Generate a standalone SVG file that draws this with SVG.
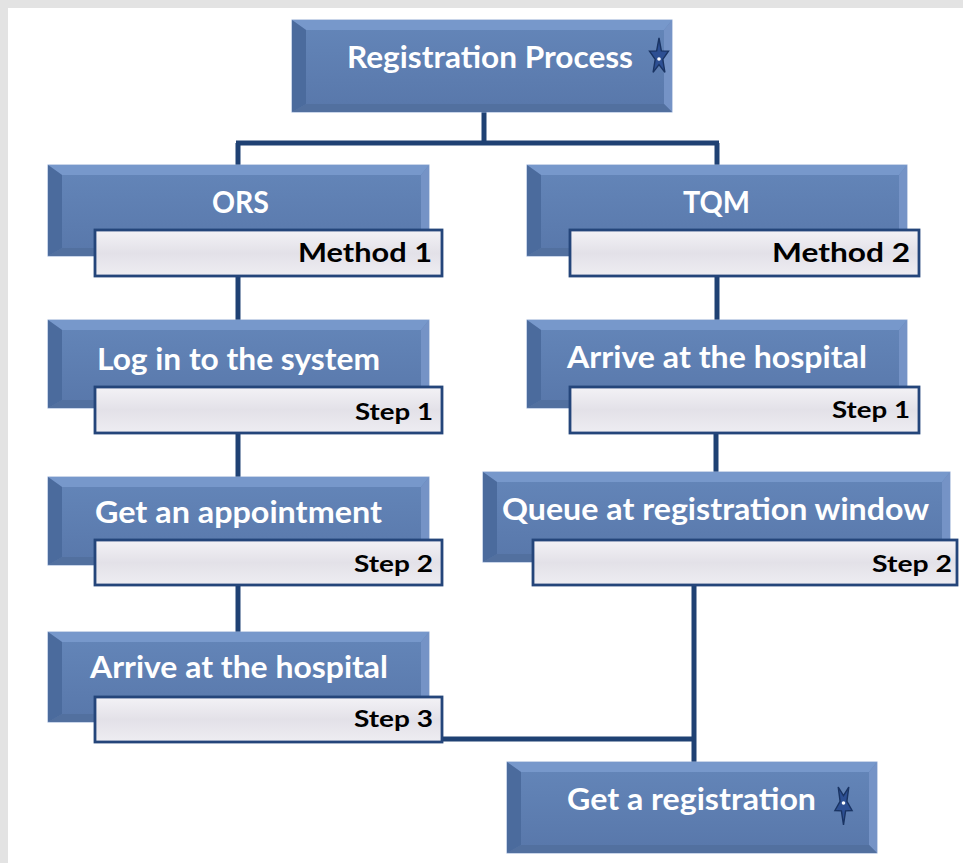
<svg xmlns="http://www.w3.org/2000/svg" width="963" height="863" viewBox="0 0 963 863">
<defs>
<linearGradient id="gBody" x1="0" y1="0" x2="0" y2="1">
<stop offset="0" stop-color="#6486b9"/>
<stop offset="1" stop-color="#5877aa"/>
</linearGradient>
<linearGradient id="gSub" x1="0" y1="0" x2="0" y2="1">
<stop offset="0" stop-color="#f3f2f6"/>
<stop offset="0.5" stop-color="#e3e1e8"/>
<stop offset="1" stop-color="#eeedf2"/>
</linearGradient>
<style>
.body{fill:url(#gBody);stroke:#93acd4;stroke-width:1}
.bt{fill:#7798cb}
.bl{fill:#4b6b9d}
.br{fill:#7593c6}
.bb{fill:#52709f}
.sub{fill:url(#gSub);stroke:#24457a;stroke-width:2.8}
.con{fill:none;stroke:#1f4173;stroke-width:5}
.mt{font-family:Lato,"Open Sans","Liberation Sans",sans-serif;font-weight:bold;font-size:30px;fill:#ffffff}
.st{font-family:Lato,"Open Sans","Liberation Sans",sans-serif;font-weight:bold;fill:#000000}
.star{fill:#2d4f93;stroke:#1a3463;stroke-width:1.4}
</style>
</defs>
<rect x="0" y="0" width="963" height="863" fill="#ffffff"/>
<rect x="0" y="0" width="963" height="8" fill="#e3e3e3"/>
<rect x="0" y="0" width="8" height="863" fill="#e3e3e3"/>

<g id="connectors">
<path class="con" d="M484 112 V143"/>
<path class="con" d="M236 143 H719" stroke-width="6"/>
<path class="con" d="M238 143 V165"/>
<path class="con" d="M717 143 V165"/>
<path class="con" d="M238 276 V320"/>
<path class="con" d="M238 433 V477"/>
<path class="con" d="M238 585 V632"/>
<path class="con" d="M717 276 V320"/>
<path class="con" d="M716 433 V472"/>
<path class="con" d="M694 585 V762"/>
<path class="con" d="M442 739 H694"/>
</g>

<g id="node-registration-process">
<rect class="body" x="292" y="20" width="380" height="92"/>
<polygon class="bt" points="292,20 672,20 664,30 306,30"/>
<polygon class="bl" points="292,20 306,30 306,104 292,112"/>
<polygon class="br" points="672,20 672,112 664,104 664,30"/>
<polygon class="bb" points="292,112 672,112 664,104 306,104"/>
<text class="mt" x="347" y="68" textLength="286" lengthAdjust="spacingAndGlyphs">Registration Process</text>
<polygon class="star" points="659,38 661.35,50.84 668.5,51.13 662.8,59.36 664.9,72.37 659,64.6 653.1,72.37 655.2,59.36 649.5,51.13 656.65,50.84"/>
<circle cx="659" cy="59" r="1.8" fill="#ffffff"/>
</g>

<g id="node-ors">
<rect class="body" x="48" y="165" width="381" height="91"/>
<polygon class="bt" points="48,165 429,165 421,175 62,175"/>
<polygon class="bl" points="48,165 62,175 62,248 48,256"/>
<polygon class="br" points="429,165 429,256 421,248 421,175"/>
<polygon class="bb" points="48,256 429,256 421,248 62,248"/>
<text class="mt" x="212" y="213" textLength="57" lengthAdjust="spacingAndGlyphs">ORS</text>
<rect class="sub" x="95" y="230" width="347" height="46"/>
<text class="st" x="298" y="262" font-size="26" textLength="134" lengthAdjust="spacingAndGlyphs">Method 1</text>
</g>

<g id="node-login">
<rect class="body" x="48" y="320" width="381" height="88"/>
<polygon class="bt" points="48,320 429,320 421,330 62,330"/>
<polygon class="bl" points="48,320 62,330 62,400 48,408"/>
<polygon class="br" points="429,320 429,408 421,400 421,330"/>
<polygon class="bb" points="48,408 429,408 421,400 62,400"/>
<text class="mt" x="97" y="370" textLength="283" lengthAdjust="spacingAndGlyphs">Log in to the system</text>
<rect class="sub" x="95" y="387" width="347" height="46"/>
<text class="st" x="355" y="420" font-size="23" textLength="78" lengthAdjust="spacingAndGlyphs">Step 1</text>
</g>

<g id="node-appointment">
<rect class="body" x="48" y="477" width="381" height="88"/>
<polygon class="bt" points="48,477 429,477 421,487 62,487"/>
<polygon class="bl" points="48,477 62,487 62,557 48,565"/>
<polygon class="br" points="429,477 429,565 421,557 421,487"/>
<polygon class="bb" points="48,565 429,565 421,557 62,557"/>
<text class="mt" x="95" y="523" textLength="287" lengthAdjust="spacingAndGlyphs">Get an appointment</text>
<rect class="sub" x="95" y="540" width="347" height="45"/>
<text class="st" x="354" y="572" font-size="23" textLength="79" lengthAdjust="spacingAndGlyphs">Step 2</text>
</g>

<g id="node-arrive-left">
<rect class="body" x="48" y="632" width="381" height="90"/>
<polygon class="bt" points="48,632 429,632 421,642 62,642"/>
<polygon class="bl" points="48,632 62,642 62,714 48,722"/>
<polygon class="br" points="429,632 429,722 421,714 421,642"/>
<polygon class="bb" points="48,722 429,722 421,714 62,714"/>
<text class="mt" x="90" y="678" textLength="298" lengthAdjust="spacingAndGlyphs">Arrive at the hospital</text>
<rect class="sub" x="95" y="697" width="347" height="45"/>
<text class="st" x="354" y="727" font-size="23" textLength="79" lengthAdjust="spacingAndGlyphs">Step 3</text>
</g>

<g id="node-tqm">
<rect class="body" x="527" y="165" width="380" height="91"/>
<polygon class="bt" points="527,165 907,165 899,175 541,175"/>
<polygon class="bl" points="527,165 541,175 541,248 527,256"/>
<polygon class="br" points="907,165 907,256 899,248 899,175"/>
<polygon class="bb" points="527,256 907,256 899,248 541,248"/>
<text class="mt" x="683" y="213" textLength="67" lengthAdjust="spacingAndGlyphs">TQM</text>
<rect class="sub" x="570" y="230" width="349" height="46"/>
<text class="st" x="772" y="262" font-size="26" textLength="138" lengthAdjust="spacingAndGlyphs">Method 2</text>
</g>

<g id="node-arrive-right">
<rect class="body" x="527" y="320" width="380" height="88"/>
<polygon class="bt" points="527,320 907,320 899,330 541,330"/>
<polygon class="bl" points="527,320 541,330 541,400 527,408"/>
<polygon class="br" points="907,320 907,408 899,400 899,330"/>
<polygon class="bb" points="527,408 907,408 899,400 541,400"/>
<text class="mt" x="567" y="368" textLength="300" lengthAdjust="spacingAndGlyphs">Arrive at the hospital</text>
<rect class="sub" x="570" y="387" width="349" height="46"/>
<text class="st" x="832" y="418" font-size="23" textLength="78" lengthAdjust="spacingAndGlyphs">Step 1</text>
</g>

<g id="node-queue">
<rect class="body" x="483" y="472" width="467" height="90"/>
<polygon class="bt" points="483,472 950,472 942,482 497,482"/>
<polygon class="bl" points="483,472 497,482 497,554 483,562"/>
<polygon class="br" points="950,472 950,562 942,554 942,482"/>
<polygon class="bb" points="483,562 950,562 942,554 497,554"/>
<text class="mt" x="502" y="520" textLength="427" lengthAdjust="spacingAndGlyphs">Queue at registration window</text>
<rect class="sub" x="533" y="540" width="424" height="45"/>
<text class="st" x="872" y="572" font-size="23" textLength="80" lengthAdjust="spacingAndGlyphs">Step 2</text>
</g>

<g id="node-get-registration">
<rect class="body" x="507" y="762" width="370" height="91"/>
<polygon class="bt" points="507,762 877,762 869,772 521,772"/>
<polygon class="bl" points="507,762 521,772 521,845 507,853"/>
<polygon class="br" points="877,762 877,853 869,845 869,772"/>
<polygon class="bb" points="507,853 877,853 869,845 521,845"/>
<text class="mt" x="567" y="810" textLength="249" lengthAdjust="spacingAndGlyphs">Get a registration</text>
<polygon class="star" points="843.5,825 845.6,810.8 852.1,810.5 846.9,801.4 848.8,787 843.5,795.6 838.2,787 840.1,801.4 834.9,810.5 841.4,810.8"/>
<circle cx="843.5" cy="803" r="1.8" fill="#ffffff"/>
</g>
</svg>
